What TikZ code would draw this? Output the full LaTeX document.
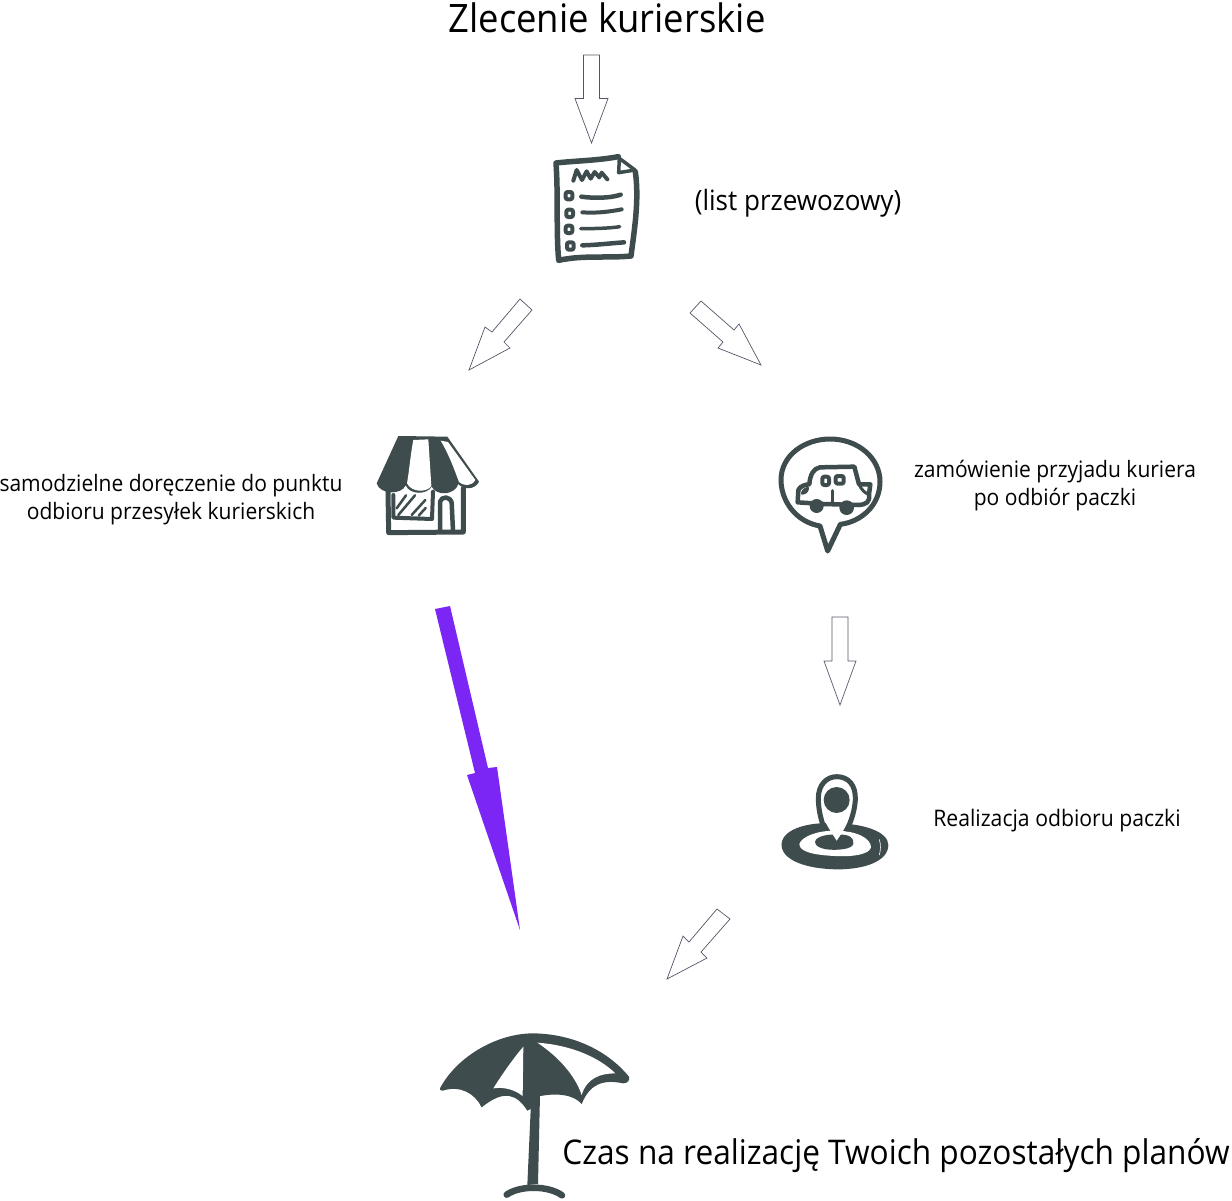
\documentclass[tikz,border=0pt]{standalone}
\usepackage{fontspec}
\setmainfont[FakeStretch=0.93]{Open Sans}
\definecolor{icon}{HTML}{3F4C4D}
\definecolor{violet}{HTML}{7B26F5}
\definecolor{hollow}{HTML}{55556A}
\tikzset{
  x=1pt,y=-1pt,
  txt/.style={inner sep=0pt,align=center,text=black},
  small/.style={txt,font=\fontsize{22.6}{28}\selectfont},
  hollowarrow/.style={draw=hollow,line width=0.7pt,fill=white,line join=miter},
  ink/.style={draw=icon,line cap=round,line join=round},
  zoomed/.style={scale=1/3}
}
\begin{document}
\begin{tikzpicture}
\useasboundingbox (0,0) rectangle (1232,1200);
\fill[white] (0,0) rectangle (1232,1200);

% texts
\node[txt,font=\fontsize{39.2}{44}\selectfont] (title) at (607,18) {Zlecenie kurierskie};
\node[txt,font=\fontsize{28}{32}\selectfont] (list) at (798,203) {(list przewozowy)};
\node[small] (self) at (171,500) {samodzielne doręczenie do punktu\\odbioru przesyłek kurierskich};
\node[small] (order) at (1055,486) {zamówienie przyjadu kuriera\\po odbiór paczki};
\node[small,font=\fontsize{22.8}{28}\selectfont] (pick) at (1057,821) {Realizacja odbioru paczki};
\node[txt,font=\fontsize{34}{38}\selectfont] (plans) at (896,1156) {Czas na realizację Twoich pozostałych planów};

% hollow arrows
\draw[hollowarrow] (583.5,55) -- (599.5,55) -- (599.5,98.5) -- (608,98.5) -- (591.5,143) -- (575,98.5) -- (583.5,98.5) -- cycle;
\draw[hollowarrow] (520,299) -- (532,310) -- (504,342) -- (510,348) -- (469,370) -- (485,327) -- (492,332) -- cycle;
\draw[hollowarrow] (701,301) -- (690,313) -- (723,342) -- (718,348) -- (761,365) -- (739,324) -- (734,330) -- cycle;
\draw[hollowarrow] (832,617) -- (848,617) -- (848,661) -- (856,661) -- (840,705) -- (824,661) -- (832,661) -- cycle;
\draw[hollowarrow] (717,909) -- (730,919) -- (701,952) -- (707,958) -- (667,979) -- (683,936) -- (689,942) -- cycle;
% violet arrow
\fill[violet] (435,609) -- (450,606) -- (488,768) -- (497,767) -- (520,930) -- (467,775) -- (475,773) -- cycle;

% waybill icon
\begin{scope}[shift={(520,130)},zoomed]
 \draw[ink,line width=5.5pt] (295,80) .. controls (230,92) and (170,92) .. (108,99)
   .. controls (115,200) and (108,300) .. (116,391)
   .. controls (190,375) and (260,385) .. (333,378)
   .. controls (343,300) and (358,210) .. (346,125);
 \draw[ink,line width=3.5pt,fill=white] (298,85) -- (296,128) -- (345,120) -- cycle;
 \draw[ink,line width=4pt] (160,152) -- (170,120) -- (186,150) -- (200,124) -- (212,146) -- (224,126) -- (238,142) -- (245,128) -- (262,148);
 \foreach \cx/\cy in {147/197,149/250,147/298,151/348}
   \draw[ink,line width=4pt,rounded corners=2pt] (\cx-10,\cy-11) rectangle (\cx+10,\cy+11);
 \draw[ink,line width=4.5pt] (184,200) .. controls (220,205) and (270,205) .. (302,194);
 \draw[ink,line width=4pt] (187,247) .. controls (230,250) and (270,245) .. (305,238);
 \draw[ink,line width=3.5pt] (182,296) .. controls (220,296) and (270,295) .. (299,290);
 \draw[ink,line width=4.5pt] (187,346) .. controls (230,345) and (270,340) .. (312,337);
\end{scope}

% shop icon
\begin{scope}[shift={(360,420)},zoomed]
 \draw[ink,line width=5pt] (84,215) -- (86,338) -- (310,336) -- (310,205);
 \draw[ink,line width=4pt] (100,225) -- (100,293) -- (216,297) -- (219,215);
 \draw[ink,line width=2.5pt] (110,265) -- (138,226) (115,285) -- (165,226) (155,285) -- (196,240) (176,287) -- (197,264);
 \draw[ink,line width=4.5pt] (240,333) -- (240,245) .. controls (245,228) and (270,228) .. (275,248) -- (279,333);
 \fill[icon] (115,48) -- (262,50) -- (357,185)
   .. controls (345,210) and (310,210) .. (295,192)
   .. controls (285,225) and (230,230) .. (215,200)
   .. controls (200,225) and (150,225) .. (137,196)
   .. controls (125,225) and (60,225) .. (50,190) -- cycle;
 \fill[white] (160,60) -- (205,58) -- (214,198) .. controls (200,218) and (155,218) .. (141,190) .. controls (148,150) and (152,100) .. (160,60) -- cycle;
 \fill[white] (242,62) -- (264,66) -- (346,180) .. controls (335,200) and (310,198) .. (297,186) .. controls (280,140) and (265,100) .. (242,62) -- cycle;
\end{scope}

% car bubble icon
\begin{scope}[shift={(765,425)},zoomed]
 \draw[ink,line width=5pt] (165,303) .. controls (90,290) and (48,225) .. (48,165)
   .. controls (48,90) and (120,42) .. (195,42)
   .. controls (280,42) and (345,100) .. (345,170)
   .. controls (345,240) and (290,290) .. (226,298)
   -- (188,378) -- cycle;
 \draw[ink,line width=4.5pt] (98,232) -- (100,195) .. controls (105,182) and (125,178) .. (133,178)
   .. controls (135,150) and (145,130) .. (165,127) -- (268,125) -- (282,178) -- (316,178) -- (312,208)
   .. controls (315,232) and (305,238) .. (280,240) -- (175,237) -- (98,232);
 \draw[ink,line width=3pt] (112,205) .. controls (115,195) and (122,192) .. (128,190) .. controls (125,200) and (120,205) .. (112,205);
 \draw[ink,line width=3pt] (282,178) .. controls (290,195) and (300,205) .. (312,208);
 \draw[ink,line width=4pt,rounded corners=2pt] (172,155) rectangle (192,180);
 \draw[ink,line width=4pt,rounded corners=2pt] (212,153) rectangle (236,176);
 \draw[ink,line width=3pt] (201,197) -- (201,235);
 \fill[icon] (155,243) circle (21) (245,248) circle (22);
\end{scope}

% pin icon
\begin{scope}[shift={(770,760)},zoomed]
 \fill[icon] (35,250) .. controls (40,205) and (120,185) .. (195,190)
   .. controls (280,190) and (355,215) .. (355,255)
   .. controls (355,305) and (280,328) .. (205,328)
   .. controls (110,328) and (30,300) .. (35,250) -- cycle;
 \fill[white] (88,252) .. controls (95,230) and (140,212) .. (195,212)
   .. controls (260,212) and (303,235) .. (303,262)
   .. controls (298,283) and (250,291) .. (195,288)
   .. controls (130,285) and (88,275) .. (88,252) -- cycle;
 \fill[icon] (135,245) .. controls (140,225) and (185,222) .. (205,224)
   .. controls (240,222) and (252,235) .. (250,250)
   .. controls (250,268) and (200,272) .. (170,268)
   .. controls (150,265) and (135,258) .. (135,245) -- cycle;
 \fill[white] (146,125) .. controls (146,75) and (175,50) .. (200,50)
   .. controls (230,50) and (256,80) .. (254,125)
   .. controls (252,160) and (225,205) .. (200,242)
   .. controls (180,210) and (148,165) .. (146,125) -- cycle;
 \draw[ink,line width=5pt] (160,198) .. controls (150,170) and (145,140) .. (145,115)
   .. controls (145,72) and (172,50) .. (200,50)
   .. controls (235,50) and (258,75) .. (256,120)
   .. controls (254,150) and (245,180) .. (232,207);
 \fill[icon] (200,120) circle (39);
 \draw[white,line width=0.6pt] (328,238) .. controls (333,255) and (332,270) .. (328,285);
\end{scope}

% umbrella icon
\begin{scope}[shift={(430,1020)},zoomed]
 \fill[icon] (30,205) .. controls (80,110) and (200,40) .. (310,40)
   .. controls (440,42) and (540,100) .. (597,170)
   .. controls (600,182) and (592,190) .. (580,190)
   .. controls (520,178) and (480,190) .. (455,252)
   .. controls (430,222) and (375,218) .. (322,230)
   .. controls (315,250) and (305,270) .. (292,272)
   .. controls (262,225) and (225,205) .. (155,262)
   .. controls (135,220) and (90,195) .. (38,212)
   .. controls (32,212) and (28,210) .. (30,205) -- cycle;
 \fill[white] (280,80) -- (278,228) .. controls (255,210) and (225,200) .. (190,205) .. controls (215,165) and (250,115) .. (280,80) -- cycle;
 \fill[white] (322,68) .. controls (420,75) and (505,110) .. (556,160)
   .. controls (510,160) and (470,175) .. (455,225)
   .. controls (435,165) and (385,110) .. (322,68) -- cycle;
 \fill[icon] (304,225) -- (330,225) -- (324,492) -- (292,495) -- (294,450) -- cycle;
 \draw[ink,line width=6.5pt] (230,524) .. controls (270,496) and (355,496) .. (396,526);
\end{scope}
\end{tikzpicture}
\end{document}
